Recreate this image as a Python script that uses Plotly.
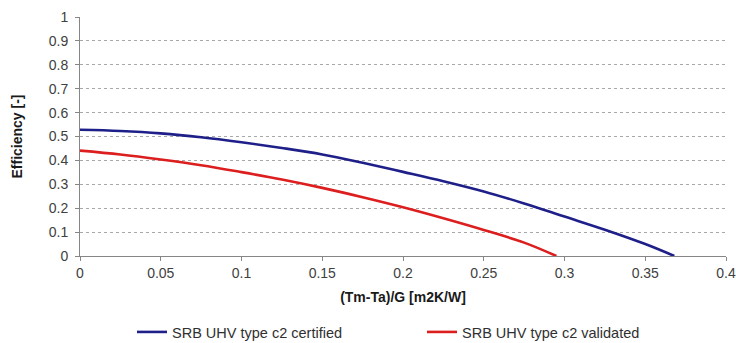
import plotly.graph_objects as go

# Data
x_certified = [0, 0.025, 0.05, 0.075, 0.1, 0.125, 0.15, 0.175, 0.2, 0.225, 0.25, 0.275, 0.3, 0.325, 0.35, 0.368]
eff_certified = [0.528, 0.523, 0.513, 0.497, 0.476, 0.452, 0.425, 0.39, 0.352, 0.313, 0.270, 0.22, 0.165, 0.11, 0.05, 0.0]

x_validated = [0, 0.025, 0.05, 0.075, 0.1, 0.125, 0.15, 0.175, 0.2, 0.225, 0.25, 0.275, 0.295]
eff_validated = [0.441, 0.425, 0.404, 0.38, 0.351, 0.32, 0.285, 0.246, 0.204, 0.158, 0.109, 0.056, 0.0]

name_certified = "SRB UHV type c2 certified"
name_validated = "SRB UHV type c2 validated"

x_ticks = [0, 0.05, 0.1, 0.15, 0.2, 0.25, 0.3, 0.35, 0.4]
x_ticktext = ["0", "0.05", "0.1", "0.15", "0.2", "0.25", "0.3", "0.35", "0.4"]
y_ticks = [0, 0.1, 0.2, 0.3, 0.4, 0.5, 0.6, 0.7, 0.8, 0.9, 1]
y_ticktext = ["0", "0.1", "0.2", "0.3", "0.4", "0.5", "0.6", "0.7", "0.8", "0.9", "1"]

FONT = "Liberation Sans, Arial, sans-serif"
AXIS_COLOR = "#868686"
TICK_FONT_COLOR = "#404040"

fig = go.Figure()
fig.add_trace(go.Scatter(x=x_certified, y=eff_certified, mode="lines", name=name_certified,
                         line=dict(color="#1f1f8a", width=2.6, shape="spline")))
fig.add_trace(go.Scatter(x=x_validated, y=eff_validated, mode="lines", name=name_validated,
                         line=dict(color="#dc1e1e", width=2.6, shape="spline")))

fig.update_layout(
    width=736, height=343,
    margin=dict(l=80, r=10, t=17, b=86.5, autoexpand=False),
    paper_bgcolor="white", plot_bgcolor="white",
    font=dict(family=FONT, size=14, color=TICK_FONT_COLOR),
    showlegend=True,
    legend=dict(orientation="h", xref="container", x=132 / 736, xanchor="left",
                yref="container", y=1 - 332 / 343, yanchor="middle",
                font=dict(size=14.5, color="#303030"), itemwidth=30,
                entrywidth=245, entrywidthmode="pixels", traceorder="normal"),
    xaxis=dict(range=[0, 0.4], tickvals=x_ticks, ticktext=x_ticktext, automargin=False,
               showgrid=False, zeroline=False, showline=True, linecolor=AXIS_COLOR, linewidth=1,
               ticks="outside", ticklen=4, tickcolor=AXIS_COLOR, tickwidth=1,
               tickfont=dict(size=14, color=TICK_FONT_COLOR),
               title=dict(text="<b>(Tm-Ta)/G [m2K/W]</b>", font=dict(size=14, color="#1a1a1a"), standoff=12)),
    yaxis=dict(range=[0, 1], tickvals=y_ticks, ticktext=y_ticktext, automargin=False,
               showgrid=True, gridcolor="#a8a8a8", griddash="dot", gridwidth=1,
               zeroline=False, showline=True, linecolor=AXIS_COLOR, linewidth=1,
               ticks="outside", ticklen=4, tickcolor=AXIS_COLOR, tickwidth=1,
               ticklabelstandoff=4,
               tickfont=dict(size=14, color=TICK_FONT_COLOR),
               title=dict(text="<b>Efficiency [-]</b>", font=dict(size=14, color="#1a1a1a"), standoff=22)),
)

fig.write_html("out.html")
